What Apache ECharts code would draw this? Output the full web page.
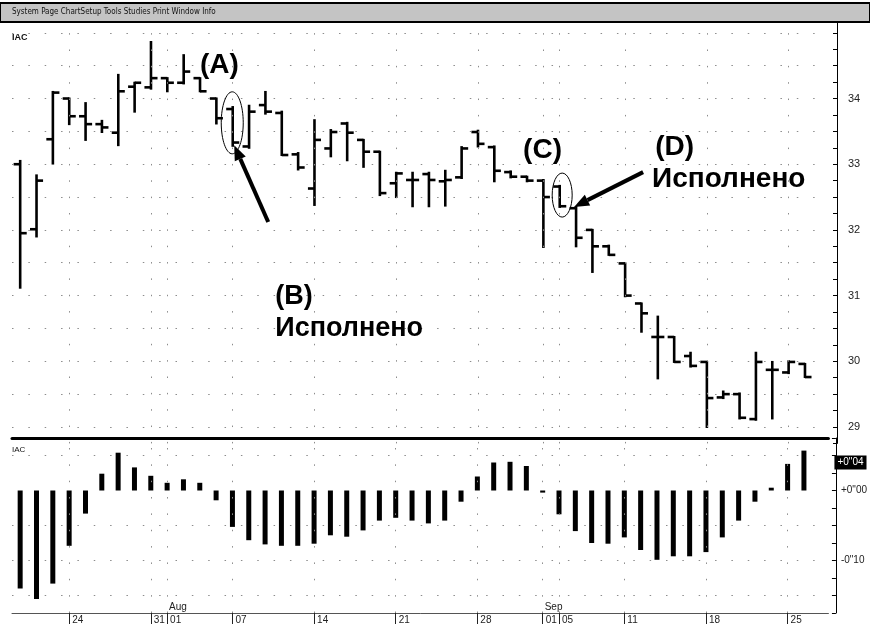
<!DOCTYPE html>
<html>
<head>
<meta charset="utf-8">
<script src="https://cdn.jsdelivr.net/npm/echarts@6/dist/echarts.min.js"></script>
<style>
  html, body { margin: 0; background: #fff; }
  #chart { width: 870px; height: 630px; }
</style>
</head>
<body>
<div id="chart"></div>
<script>
// trading days, the last slot is an empty day after the data
const dates = [
  '2000-07-19', '2000-07-20', '2000-07-21', '2000-07-24', '2000-07-25', '2000-07-26', '2000-07-27', '2000-07-28', '2000-07-31',
  '2000-08-01', '2000-08-02', '2000-08-03', '2000-08-04', '2000-08-07', '2000-08-08', '2000-08-09', '2000-08-10', '2000-08-11',
  '2000-08-14', '2000-08-15', '2000-08-16', '2000-08-17', '2000-08-18', '2000-08-21', '2000-08-22', '2000-08-23', '2000-08-24', '2000-08-25',
  '2000-08-28', '2000-08-29', '2000-08-30', '2000-08-31', '2000-09-01', '2000-09-05', '2000-09-06', '2000-09-07', '2000-09-08',
  '2000-09-11', '2000-09-12', '2000-09-13', '2000-09-14', '2000-09-15', '2000-09-18', '2000-09-19', '2000-09-20', '2000-09-21', '2000-09-22',
  '2000-09-25', '2000-09-26', '2000-09-27'
];
const opens = [
  33.00, 32.01, 33.38, 34.00, 33.73, 33.61, 33.48, 34.18, 34.17,
  34.31, 34.24, 34.31, 34.00, 33.84, 33.27, 33.90, 33.78, 33.15,
  32.63, 33.24, 33.62, 33.37, 33.19, 32.71, 32.76, 32.85, 32.74, 32.80,
  33.49, 33.26, 32.88, 32.81, 32.75, 32.66, 32.33, 32.00, 31.75,
  31.49, 30.88, 30.37, 30.37, 30.08, 29.99, 29.45, 29.50, 29.12, 29.87,
  29.83, 29.96
];
const highs = [
  33.05, 32.83, 34.10, 34.00, 33.93, 33.66, 34.36, 34.24, 34.86,
  34.31, 34.66, 34.31, 34.00, 33.87, 33.89, 34.10, 33.80, 33.17,
  33.67, 33.52, 33.63, 33.37, 33.19, 32.87, 32.87, 32.87, 32.90, 33.26,
  33.51, 33.27, 32.89, 32.81, 32.76, 32.67, 32.35, 32.00, 31.76,
  31.49, 30.88, 30.68, 30.37, 30.13, 29.99, 29.54, 29.51, 30.13, 29.99,
  30.00, 29.96
];
const lows = [
  31.12, 31.90, 33.01, 33.61, 33.37, 33.49, 33.29, 33.80, 34.15,
  34.11, 34.23, 34.11, 33.62, 33.28, 33.25, 33.77, 33.14, 32.92,
  32.38, 33.12, 33.06, 32.96, 32.53, 32.50, 32.36, 32.36, 32.37, 32.79,
  33.27, 32.74, 32.80, 32.74, 31.74, 32.35, 31.75, 31.36, 31.62,
  30.99, 30.45, 29.74, 29.99, 29.92, 29.00, 29.44, 29.13, 29.11, 29.13,
  29.82, 29.76
];
const closes = [
  31.95, 32.75, 34.09, 33.73, 33.61, 33.56, 34.11, 34.24, 34.31,
  34.24, 34.41, 34.11, 33.70, 33.33, 33.80, 33.80, 33.14, 32.95,
  33.37, 33.49, 33.48, 33.19, 32.56, 32.86, 32.76, 32.76, 32.76, 33.24,
  33.31, 32.90, 32.81, 32.75, 32.50, 32.36, 31.88, 31.75, 31.62,
  31.00, 30.73, 30.37, 29.99, 29.93, 29.44, 29.50, 29.14, 29.99, 29.87,
  29.99, 29.76
];
// lower study histogram
const osc = [
  -0.140, -0.155, -0.133, -0.079, -0.033, 0.024, 0.054, 0.033, 0.021,
  0.011, 0.016, 0.011, -0.014, -0.052, -0.071, -0.077, -0.079, -0.079,
  -0.076, -0.064, -0.066, -0.057, -0.043, -0.039, -0.043, -0.047, -0.043, -0.016,
  0.020, 0.040, 0.041, 0.035, -0.003, -0.034, -0.058, -0.075, -0.076,
  -0.067, -0.085, -0.099, -0.094, -0.094, -0.088, -0.067, -0.043, -0.016, 0.004,
  0.038, 0.057
];
const oscMark = 0.04;
const monthNames = ['Jan', 'Feb', 'Mar', 'Apr', 'May', 'Jun', 'Jul', 'Aug', 'Sep', 'Oct', 'Nov', 'Dec'];

// annotations in data space: [bar index, price]
const notes = [
  { text: '(A)', at: [11.0, 34.72], size: 28 },
  { text: '(B)', at: [15.6, 31.19], size: 27 },
  { text: 'Исполнено', at: [15.6, 30.71], size: 27 },
  { text: '(C)', at: [30.76, 33.42], size: 28 },
  { text: '(D)', at: [38.84, 33.47], size: 28 },
  { text: 'Исполнено', at: [38.65, 32.99], size: 28 },
];
const arrows = [
  { from: [15.17, 32.12], to: [13.09, 33.29] },
  { from: [38.1, 32.88], to: [33.88, 32.35] },
];
const ovals = [
  { at: [12.97, 33.63], rx: 11, ry: 31 },
  { at: [33.15, 32.53], rx: 10, ry: 22 },
];

const FONT = '"Liberation Sans", Arial, sans-serif';
const dots = { color: '#8c8c8c', width: 1, type: [1.5, 14.85] };

const dayOf = (d) => new Date(d + 'T00:00:00Z');
const isLabel = dates.map((d, i) => {
  if (i == 0 || i >= closes.length) return false;
  const cur = dayOf(d), prev = dayOf(dates[i - 1]);
  return cur.getUTCDay() <= prev.getUTCDay() || cur.getUTCMonth() != prev.getUTCMonth();
});
const isMonth = dates.map((d, i) => i > 0 && i < closes.length && dayOf(d).getUTCMonth() != dayOf(dates[i - 1]).getUTCMonth());
const labelDates = dates.filter((d, i) => isLabel[i]);

const fmtOsc = (v) => {
  const n = Math.round(Math.abs(v) * 100);
  return (v < -1e-9 ? '-' : '+') + '0"' + String(n).padStart(2, '0');
};

// dotted grid rows every half point
const priceRows = [];
for (let v = 29; v <= 35; v += 0.5) priceRows.push(v);
const oscRows = [-0.15, -0.1, -0.05, 0.05];

const ohlc = closes.map((c, i) => [i, opens[i], highs[i], lows[i], c]);

const chart = echarts.init(document.getElementById('chart'), null, { renderer: 'canvas' });

const option = {
  animation: false,
  backgroundColor: '#fff',
  textStyle: { fontFamily: FONT },
  title: [
    { text: 'IAC', left: 7, top: 28, textStyle: { fontSize: 9, fontWeight: 'bold', color: '#111', fontFamily: FONT } },
    { text: 'IAC', left: 7, top: 441, textStyle: { fontSize: 8, fontWeight: 'normal', color: '#111', fontFamily: FONT } },
  ],
  grid: [
    { left: 12, right: 40.5, top: 16.4, height: 427 },
    { left: 12, right: 40.5, top: 438, height: 175 },
  ],
  xAxis: [
    { type: 'category', gridIndex: 0, data: dates, show: false },
    {
      type: 'category',
      gridIndex: 1,
      data: dates,
      position: 'bottom',
      axisLine: { show: true, onZero: false, lineStyle: { color: '#555', width: 1 } },
      axisTick: { show: true, alignWithLabel: true, interval: (i) => isLabel[i], length: 11, lineStyle: { color: '#222', width: 1 } },
      axisLabel: {
        interval: (i) => isLabel[i],
        formatter: (d) => d.slice(8),
        align: 'left',
        verticalAlign: 'top',
        margin: 2,
        padding: [0, 0, 0, 3],
        fontSize: 10,
        color: '#222',
        fontFamily: FONT,
      },
      splitLine: { show: false },
    },
    {
      type: 'category',
      gridIndex: 1,
      data: dates,
      position: 'bottom',
      axisLine: { show: false, onZero: false },
      axisTick: { show: false },
      axisLabel: {
        inside: true,
        interval: (i) => isMonth[i],
        formatter: (d) => monthNames[dayOf(d).getUTCMonth()],
        align: 'left',
        verticalAlign: 'bottom',
        margin: 1,
        padding: [0, 0, 0, 2],
        fontSize: 10,
        color: '#222',
        fontFamily: FONT,
      },
    },
    {
      type: 'category',
      gridIndex: 1,
      data: dates,
      position: 'top',
      axisLine: { onZero: false, lineStyle: { color: '#000', width: 3 } },
      axisTick: { show: false },
      axisLabel: { show: false },
    },
  ],
  yAxis: [
    {
      type: 'value',
      gridIndex: 0,
      position: 'right',
      offset: 7.5,
      min: 28.75,
      max: 35.25,
      interval: 0.25,
      axisLine: { show: true, lineStyle: { color: '#000', width: 1 } },
      axisTick: { show: true, inside: true, length: 4, lineStyle: { color: '#000' } },
      axisLabel: {
        margin: 11,
        fontSize: 11,
        color: '#222',
        fontFamily: FONT,
        formatter: (v) => (Math.abs(v - Math.round(v)) < 1e-6 && v < 34.9 ? String(Math.round(v)) : ''),
      },
      splitLine: { show: false },
    },
    {
      type: 'value',
      gridIndex: 1,
      position: 'right',
      offset: 7.5,
      min: -0.175,
      max: 0.075,
      interval: 0.025,
      axisLine: { show: true, lineStyle: { color: '#000', width: 1 } },
      axisTick: { show: true, inside: true, length: 4, lineStyle: { color: '#000' } },
      axisLabel: {
        margin: 5,
        fontSize: 10,
        color: '#222',
        fontFamily: FONT,
        formatter: (v) => {
          const t = v * 10;
          return Math.abs(t - Math.round(t)) < 1e-6 && v > -0.16 && v < 0.06 ? fmtOsc(v) : '';
        },
      },
      splitLine: { show: false },
    },
  ],
  series: [
    {
      name: 'IAC',
      type: 'custom',
      xAxisIndex: 0,
      yAxisIndex: 0,
      data: ohlc,
      encode: { x: 0, y: [1, 2, 3, 4] },
      renderItem: (params, api) => {
        const i = api.value(0);
        const o = api.coord([i, api.value(1)]);
        const h = api.coord([i, api.value(2)]);
        const l = api.coord([i, api.value(3)]);
        const c = api.coord([i, api.value(4)]);
        const tick = api.size([1, 0])[0] * 0.4;
        const st = { stroke: '#000', lineWidth: 2.6 };
        return {
          type: 'group',
          children: [
            { type: 'line', shape: { x1: h[0], y1: h[1] - 1, x2: l[0], y2: l[1] + 1 }, style: st },
            { type: 'line', shape: { x1: o[0] - tick, y1: o[1], x2: o[0], y2: o[1] }, style: st },
            { type: 'line', shape: { x1: c[0], y1: c[1], x2: c[0] + tick, y2: c[1] }, style: st },
          ],
        };
      },
      markLine: {
        silent: true,
        symbol: 'none',
        label: { show: false },
        lineStyle: dots,
        data: priceRows.map((v) => ({ yAxis: v })).concat(labelDates.map((d) => ({ xAxis: d }))),
      },
      z: 3,
    },
    {
      name: 'IAC osc',
      type: 'bar',
      xAxisIndex: 1,
      yAxisIndex: 1,
      data: osc,
      barWidth: 5,
      itemStyle: { color: '#000' },
      markLine: {
        silent: true,
        symbol: 'none',
        label: { show: false },
        lineStyle: dots,
        data: oscRows
          .map((v) => ({ yAxis: v }))
          .concat(labelDates.map((d) => ({ xAxis: d })))
          .concat([
            {
              yAxis: oscMark,
              lineStyle: { color: 'rgba(0,0,0,0)', width: 0 },
              label: {
                show: true,
                position: 'end',
                distance: 6,
                formatter: () => fmtOsc(oscMark),
                backgroundColor: '#000',
                color: '#fff',
                padding: [2, 3],
                fontSize: 10,
                fontFamily: FONT,
              },
            },
          ]),
      },
      z: 3,
    },
  ],
};

chart.setOption(option);

// annotations placed through the price scale
const x0 = chart.convertToPixel({ xAxisIndex: 0 }, dates[0]);
const x1 = chart.convertToPixel({ xAxisIndex: 0 }, dates[1]);
const px = (pt) => [x0 + (x1 - x0) * pt[0], chart.convertToPixel({ yAxisIndex: 0 }, pt[1])];

const arrowShapes = (from, to) => {
  const a = px(from), b = px(to);
  const ang = Math.atan2(b[1] - a[1], b[0] - a[0]);
  const headLen = 15, headW = 12;
  const base = [b[0] - headLen * Math.cos(ang), b[1] - headLen * Math.sin(ang)];
  const nx = -Math.sin(ang), ny = Math.cos(ang);
  return [
    { type: 'line', z: 50, shape: { x1: a[0], y1: a[1], x2: base[0], y2: base[1] }, style: { stroke: '#000', lineWidth: 4 } },
    {
      type: 'polygon',
      z: 50,
      shape: { points: [b, [base[0] + (nx * headW) / 2, base[1] + (ny * headW) / 2], [base[0] - (nx * headW) / 2, base[1] - (ny * headW) / 2]] },
      style: { fill: '#000' },
    },
  ];
};

const graphic = [
  { type: 'rect', z: 100, shape: { x: 0, y: 3, width: 870, height: 19 }, style: { fill: '#c4c4c4', stroke: '#000', lineWidth: 2 } },
  {
    type: 'text',
    z: 101,
    x: 12,
    y: 8,
    style: { text: 'System Page ChartSetup Tools Studies Print Window Info', font: '8px "Liberation Sans Narrow", "DejaVu Sans Condensed", ' + FONT, fill: '#111' },
  },
];
ovals.forEach((o) => {
  const p = px(o.at);
  graphic.push({ type: 'ellipse', z: 50, shape: { cx: p[0], cy: p[1], rx: o.rx, ry: o.ry }, style: { fill: 'none', stroke: '#000', lineWidth: 1 } });
});
arrows.forEach((a) => graphic.push(...arrowShapes(a.from, a.to)));
notes.forEach((n) => {
  const p = px(n.at);
  graphic.push({
    type: 'text',
    z: 50,
    x: p[0],
    y: p[1],
    style: { text: n.text, font: 'bold ' + n.size + 'px ' + FONT, fill: '#000', verticalAlign: 'top' },
  });
});

chart.setOption({ graphic: graphic });
</script>
</body>
</html>
